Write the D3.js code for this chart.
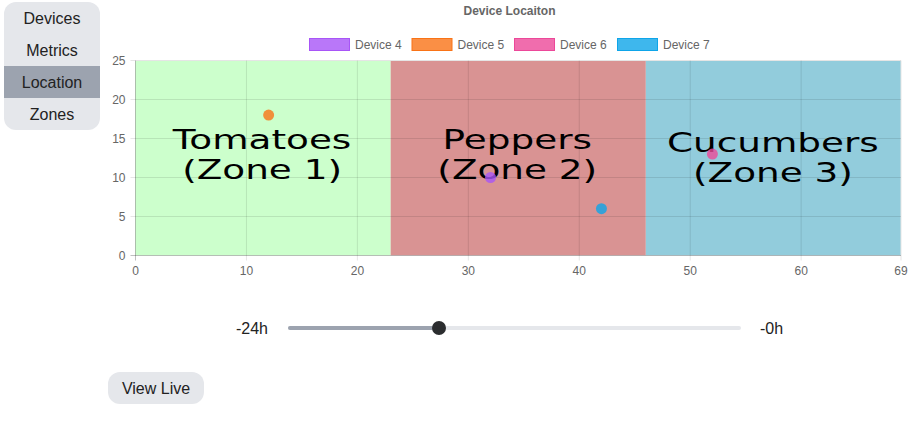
<!DOCTYPE html>
<html><head><meta charset="utf-8">
<script src="https://cdn.jsdelivr.net/npm/d3@7"></script>
<style>
html,body{margin:0;padding:0;background:#fff;overflow:hidden}
svg{display:block;font-family:"Liberation Sans",Arial,sans-serif;opacity:.999}
</style></head><body><svg id="c" width="914" height="428"></svg>
<script>
const navItems = ["Devices","Metrics","Location","Zones"];
const activeNav = "Location";
const devices = ["Device 4","Device 5","Device 6","Device 7"];
const deviceX = [32,12,52,42];
const deviceY = [10,18,13,6];
const deviceColors = ["#a855f7","#f97316","#ec4899","#0ea5e9"];
const zoneStart = [0,23,46];
const zoneEnd = [23,46,69];
const zoneColors = ["#ccffcc","#d99393","#92ccdc"];
const zoneLine1 = ["Tomatoes","Peppers","Cucumbers"];
const zoneLine2 = ["(Zone 1)","(Zone 2)","(Zone 3)"];
const xTicks = [0,10,20,30,40,50,60,69];
const yTicks = [0,5,10,15,20,25];
const sliderValue = 8;

const svg = d3.select("#c");
const x = d3.scaleLinear().domain([0,69]).range([135.5,901]);
const y = d3.scaleLinear().domain([0,25]).range([255.5,60.5]);
const slider = d3.scaleLinear().domain([0,24]).range([288,741]);

// nav
const nav = d3.scaleBand().domain(navItems).range([2,130]);
svg.append("clipPath").attr("id","navclip").append("rect")
  .attr("x",4).attr("y",2).attr("width",96).attr("height",128).attr("rx",12);
const gNav = svg.append("g").attr("clip-path","url(#navclip)");
gNav.selectAll("rect").data(navItems).join("rect")
  .attr("x",4).attr("width",96).attr("y",d=>nav(d)).attr("height",nav.bandwidth())
  .attr("fill",d=>d===activeNav?"#9ca3af":"#e5e7eb");
svg.selectAll("text.nav").data(navItems).join("text").attr("class","nav")
  .attr("x",52).attr("y",d=>nav(d)+nav.bandwidth()/2+6).attr("text-anchor","middle")
  .attr("font-size",16).attr("fill","#222").text(d=>d);

// title
svg.append("text").attr("x",509.5).attr("y",15).attr("text-anchor","middle")
  .attr("font-size",12).attr("font-weight","bold").attr("fill","#666").text("Device Locaiton");

// legend
const legX = [309,411.5,514,617];
devices.forEach((d,i)=>{
  svg.append("rect").attr("x",legX[i]+.5).attr("y",38.5).attr("width",40).attr("height",12)
    .attr("fill",deviceColors[i]).attr("fill-opacity",.8).attr("stroke",deviceColors[i]);
  svg.append("text").attr("x",legX[i]+46).attr("y",48.5).attr("font-size",12).attr("fill","#666").text(d);
});

// zones
svg.append("clipPath").attr("id","plotclip").append("rect")
  .attr("x",135).attr("y",61).attr("width",765.5).attr("height",194.5);
svg.append("g").attr("clip-path","url(#plotclip)").selectAll("rect").data(zoneStart).join("rect")
  .attr("x",d=>x(d)).attr("y",y(25)).attr("height",y(0)-y(25))
  .attr("width",(d,i)=>x(zoneEnd[i])-x(d)).attr("fill",(d,i)=>zoneColors[i]);

const zoneLabelDy = [0,0,3];
zoneStart.forEach((d,i)=>{
  const cx=(x(d)+x(zoneEnd[i]))/2-(i==0?1:i==1?1:0.5);
  [zoneLine1[i],zoneLine2[i]].forEach((t,j)=>{
    svg.append("text").attr("text-anchor","middle")
      .attr("transform",`translate(${cx},${148.5+j*30.7+zoneLabelDy[i]}) scale(1.41,1)`)
      .attr("font-family","DejaVu Sans").attr("font-size",26.5).attr("fill","#000").text(t);
  });
});

// grid
const grid="rgba(0,0,0,0.1)";
xTicks.forEach(t=>svg.append("line").attr("x1",x(t)).attr("x2",x(t)).attr("y1",y(25)).attr("y2",y(0)+5).attr("stroke",t===0?"rgba(0,0,0,0.25)":grid));
yTicks.forEach(t=>svg.append("line").attr("x1",x(0)-5).attr("x2",x(69)).attr("y1",y(t)).attr("y2",y(t)).attr("stroke",t===0?"rgba(0,0,0,0.25)":grid));

// axes
const gx=svg.append("g").attr("transform",`translate(0,${y(0)})`)
  .call(d3.axisBottom(x).offset(0).tickValues(xTicks).tickFormat(d3.format("d")).tickSize(0).tickPadding(11));
const gy=svg.append("g").attr("transform",`translate(${x(0)},0)`)
  .call(d3.axisLeft(y).offset(0.5).tickValues(yTicks).tickSize(0).tickPadding(10));
[gx,gy].forEach(g=>{g.select(".domain").remove();
  g.selectAll("text").attr("font-family","Liberation Sans").attr("font-size",12).attr("fill","#666");});

// points
svg.selectAll("circle.pt").data(devices).join("circle").attr("class","pt")
  .attr("cx",(d,i)=>x(deviceX[i])).attr("cy",(d,i)=>y(deviceY[i])).attr("r",5.5)
  .attr("fill",(d,i)=>deviceColors[i]).attr("fill-opacity",.8);

// slider
svg.append("text").attr("x",268).attr("y",334).attr("text-anchor","end").attr("font-size",16).attr("fill","#222").text("-24h");
svg.append("text").attr("x",760).attr("y",334).attr("font-size",16).attr("fill","#222").text("-0h");
svg.append("rect").attr("x",288).attr("y",326).attr("width",453).attr("height",4).attr("rx",2).attr("fill","#e5e7eb");
svg.append("rect").attr("x",288).attr("y",326).attr("width",slider(sliderValue)-288).attr("height",4).attr("rx",2).attr("fill","#9ca3af");
svg.append("circle").attr("cx",slider(sliderValue)).attr("cy",328).attr("r",7).attr("fill","#2b2d2f");

// button
svg.append("rect").attr("x",108).attr("y",372).attr("width",96).attr("height",32).attr("rx",12).attr("fill","#e5e7eb");
svg.append("text").attr("x",156).attr("y",394).attr("text-anchor","middle").attr("font-size",16).attr("fill","#222").text("View Live");
</script></body></html>
